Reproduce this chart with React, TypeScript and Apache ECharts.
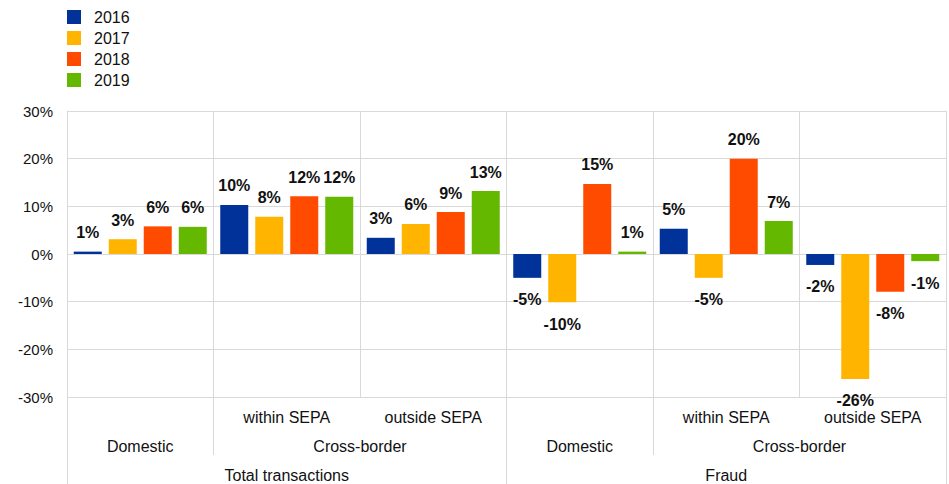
import React, { useEffect, useRef } from "react";
import * as echarts from "echarts";

const groups = ["Total domestic", "Total within SEPA", "Total outside SEPA", "Fraud domestic", "Fraud within SEPA", "Fraud outside SEPA"];
const level1Labels = ["", "within SEPA", "outside SEPA", "", "within SEPA", "outside SEPA"];
const level2Labels = ["Domestic", "Cross-border", "Domestic", "Cross-border"];
const level2Spans = [1, 2, 1, 2];
const level3Labels = ["Total transactions", "Fraud"];
const level3Spans = [3, 3];

const years = ["2016", "2017", "2018", "2019"];
const colors = ["#003299", "#FFB400", "#FF4B00", "#65B800"];
const values2016 = [0.5, 10.3, 3.4, -5.0, 5.3, -2.3];
const values2017 = [3.1, 7.8, 6.3, -10.1, -5.0, -26.2];
const values2018 = [5.8, 12.1, 8.8, 14.7, 20.0, -7.9];
const values2019 = [5.7, 12.0, 13.2, 0.5, 6.9, -1.5];
const seriesValues = [values2016, values2017, values2018, values2019];

const yTicks = { min: -30, max: 30, interval: 10 };

function spanCenters(spans: number[]) {
  const out: number[] = [];
  let acc = 0;
  for (const s of spans) {
    out.push(acc + s / 2);
    acc += s;
  }
  return out;
}

function makeFormatter(labels: string[], spans: number[]) {
  const centers = spanCenters(spans);
  return (v: number) => {
    const i = centers.findIndex((c) => Math.abs(c - v) < 1e-6);
    return i >= 0 ? labels[i] : "";
  };
}

const FONT = "'Liberation Sans', Arial, sans-serif";
const GRID_COLOR = "#d9d9d9";

export default function App() {
  const ref = useRef<HTMLDivElement>(null);
  useEffect(() => {
    if (!ref.current) return;
    const chart = echarts.init(ref.current, undefined, { renderer: "svg" });
    const series = years.map((y, si) => ({
      name: y,
      type: "bar",
      xAxisIndex: 0,
      yAxisIndex: 0,
      barWidth: 28,
      barGap: "25%",
      itemStyle: { color: colors[si] },
      data: seriesValues[si].map((v) => ({
        value: v,
        label: { position: v >= 0 ? "top" : "bottom", distance: v >= 0 ? 11 : 14 },
      })),
      label: {
        show: true,
        fontFamily: FONT,
        fontWeight: "bold",
        fontSize: 16,
        color: "#111",
        formatter: (p: any) => `${Math.round(p.value)}%`,
      },
    }));
    const valueAxisBase = {
      type: "value",
      min: 0,
      max: groups.length,
      interval: 0.5,
      position: "bottom",
      axisLine: { show: false },
      axisTick: { show: false },
      splitLine: { show: false },
    };
    chart.setOption({
      animation: false,
      textStyle: { fontFamily: FONT },
      legend: {
        orient: "vertical",
        left: 62,
        top: 4,
        itemWidth: 14,
        itemHeight: 14,
        itemGap: 5,
        icon: "rect",
        textStyle: { fontFamily: FONT, fontSize: 16, color: "#111", padding: [0, 0, 0, 8] },
        data: years,
      },
      grid: { left: 67, width: 884, top: 111, height: 286, containLabel: false },
      yAxis: {
        type: "value",
        min: yTicks.min,
        max: yTicks.max,
        interval: yTicks.interval,
        axisLine: { show: true, lineStyle: { color: GRID_COLOR, width: 1 } },
        axisTick: { show: false },
        splitLine: { show: true, lineStyle: { color: GRID_COLOR, width: 1 } },
        axisLabel: { formatter: "{value}%", fontSize: 15, color: "#111", margin: 14, fontFamily: FONT },
      },
      xAxis: [
        {
          type: "category",
          data: groups,
          position: "bottom",
          axisLine: { show: false, onZero: false },
          axisTick: {
            show: true,
            alignWithLabel: false,
            interval: (i: number) => i === 1 || i === 4,
            length: 58,
            lineStyle: { color: GRID_COLOR },
          },
          splitLine: { show: true, interval: 0, lineStyle: { color: GRID_COLOR } },
          axisLabel: {
            interval: 0,
            margin: 12,
            fontSize: 16,
            color: "#111",
            fontFamily: FONT,
            formatter: (_v: string, i: number) => level1Labels[i],
          },
        },
        {
          type: "category",
          data: groups,
          position: "bottom",
          axisLine: { show: false, onZero: false },
          axisTick: {
            show: true,
            alignWithLabel: false,
            interval: (i: number) => i === 0 || i === 3,
            length: 87,
            lineStyle: { color: GRID_COLOR },
          },
          splitLine: { show: false },
          axisLabel: { show: false },
        },
        {
          ...valueAxisBase,
          offset: 29,
          axisLabel: {
            margin: 12,
            fontSize: 16,
            color: "#111",
            fontFamily: FONT,
            formatter: makeFormatter(level2Labels, level2Spans),
          },
        },
        {
          ...valueAxisBase,
          offset: 58,
          axisLabel: {
            margin: 12,
            fontSize: 16,
            color: "#111",
            fontFamily: FONT,
            formatter: makeFormatter(level3Labels, level3Spans),
          },
        },
      ],
      series,
    });
    return () => chart.dispose();
  }, []);
  return <div ref={ref} style={{ width: 949, height: 484, position: "absolute", left: 0, top: 0 }} />;
}
